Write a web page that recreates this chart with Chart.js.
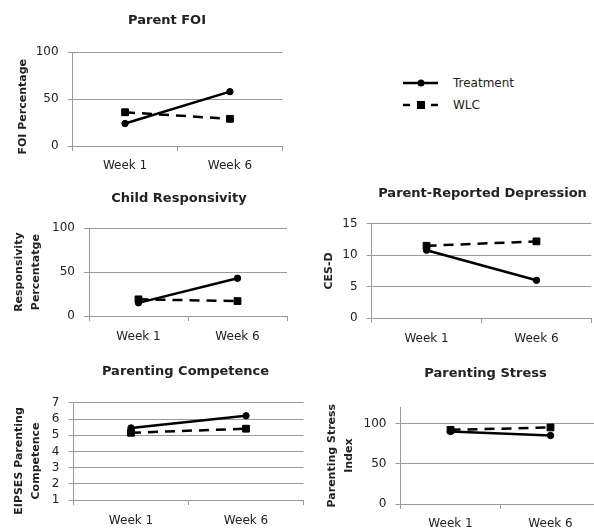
<!DOCTYPE html>
<html>
<head>
<meta charset="utf-8">
<script src="https://cdn.jsdelivr.net/npm/chart.js@4.4.1/dist/chart.umd.min.js"></script>
<style>
  html, body { margin: 0; padding: 0; background: #fff; }
  body { width: 594px; height: 529px; overflow: hidden; position: relative; font-family: "DejaVu Sans", sans-serif; }
  canvas { position: absolute; }
  .legend-row { position: absolute; left: 400px; height: 16px; display: flex; align-items: center; font-size: 12px; color: #222; }
  .legend-row svg { width: 44px; height: 16px; margin-right: 9px; }
</style>
</head>
<body>
<div class="legend-row" style="top:75px">
  <svg viewBox="0 0 44 16"><line x1="3" y1="8" x2="38" y2="8" stroke="#000" stroke-width="2.5"/><circle cx="21" cy="8" r="3.5" fill="#000"/></svg>
  <span id="lg0"></span>
</div>
<div class="legend-row" style="top:97px">
  <svg viewBox="0 0 44 16"><line x1="3" y1="8" x2="38" y2="8" stroke="#000" stroke-width="2.5" stroke-dasharray="7 7"/><rect x="17" y="4" width="8" height="8" fill="#000"/></svg>
  <span id="lg1"></span>
</div>
<script>
// Time points and series
const weeks = ['Week 1', 'Week 6'];
const seriesNames = ['Treatment', 'WLC'];

// Parent FOI (%)
const foiTreatment = [24, 58];
const foiWLC = [36, 29];

// Child responsivity (%)
const respTreatment = [15, 43];
const respWLC = [19, 17];

// Parent-reported depression (CES-D)
const cesdTreatment = [10.8, 6.0];
const cesdWLC = [11.5, 12.2];

// Parenting competence (EIPSES)
const competenceTreatment = [5.45, 6.2];
const competenceWLC = [5.15, 5.4];

// Parenting stress index
const stressTreatment = [90, 85];
const stressWLC = [92, 95];

document.getElementById('lg0').textContent = seriesNames[0];
document.getElementById('lg1').textContent = seriesNames[1];

const GRID = '#9a9a9a';
const INK = '#222';
const FONT = '"DejaVu Sans", sans-serif';
const NB = '\u00a0';

// Panel layout: plot box (L,R,T,B), title centre, y-title first-line centre
const panels = [
  { title: 'Parent FOI', yTitle: 'FOI Percentage' + NB.repeat(4), t: foiTreatment, w: foiWLC,
    min: 0, max: 100, step: 50, L: 73, R: 283, T: 52, B: 146,
    titleX: 167.5, titleY: 20.5, yTitleX: 24, labelPad: 8 },
  { title: 'Child Responsivity', yTitle: ['Responsivity', 'Percentatge'], t: respTreatment, w: respWLC,
    min: 0, max: 100, step: 50, L: 89, R: 287, T: 228, B: 316,
    titleX: 179, titleY: 198.5, yTitleX: 19.5, labelPad: 9 },
  { title: 'Parent-Reported Depression', yTitle: 'CES-D', t: cesdTreatment, w: cesdWLC,
    min: 0, max: 15, step: 5, L: 372, R: 592, T: 224, B: 318,
    titleX: 483, titleY: 194, yTitleX: 330, labelPad: 9 },
  { title: 'Parenting Competence', yTitle: ['EIPSES Parenting' + NB.repeat(5), 'Competence' + NB.repeat(5)], t: competenceTreatment, w: competenceWLC,
    min: 1, max: 7, step: 1, L: 73, R: 303, T: 403, B: 500,
    titleX: 185, titleY: 372, yTitleX: 19, labelPad: 9 },
  { title: 'Parenting Stress', yTitle: ['Parenting Stress', 'Index'], t: stressTreatment, w: stressWLC,
    min: 0, max: 120, step: 50, L: 400, R: 600, T: 407, B: 503.5,
    titleX: 485, titleY: 373.5, yTitleX: 332, labelPad: 8, keep: [0, 50, 100] }
];

function makePanel(p) {
  const multi = Array.isArray(p.yTitle);
  const yTitleSize = 11;
  const yTitleLH = multi ? 17 : 13.2;
  const titleSize = 13;
  const titleLH = titleSize * 1.2;
  const left = p.yTitleX - yTitleLH / 2 - 3;
  const top = p.titleY - 2 - titleLH / 2;
  const right = 2 * p.titleX - left;
  const xh = 34;
  const cw = Math.round(right - left);
  const ch = Math.round(p.B + xh - top);
  const yw = p.L - left;
  const rw = right - p.R;
  const padBottom = p.T - top - 2 - titleLH;

  const cv = document.createElement('canvas');
  cv.width = cw; cv.height = ch;
  cv.style.left = left + 'px'; cv.style.top = top + 'px';
  cv.style.width = cw + 'px'; cv.style.height = ch + 'px';
  document.body.appendChild(cv);

  new Chart(cv, {
    type: 'line',
    data: {
      labels: weeks,
      datasets: [
        { label: seriesNames[0], data: p.t, borderColor: '#000', backgroundColor: '#000',
          borderWidth: 2.5, pointStyle: 'circle', pointRadius: 3.2, pointBorderWidth: 1,
          pointBackgroundColor: '#000', pointBorderColor: '#000', tension: 0 },
        { label: seriesNames[1], data: p.w, borderColor: '#000', backgroundColor: '#000',
          borderWidth: 2.5, borderDash: [10, 7], pointStyle: 'rect', pointRadius: 4.8, pointBorderWidth: 1,
          pointBackgroundColor: '#000', pointBorderColor: '#000', tension: 0 }
      ]
    },
    options: {
      responsive: false,
      animation: false,
      events: [],
      layout: { padding: 0 },
      plugins: {
        legend: { display: false },
        tooltip: { enabled: false },
        title: {
          display: true, text: p.title, color: INK,
          font: { family: FONT, size: titleSize, weight: 'bold', lineHeight: 1.2 },
          padding: { top: 2, bottom: padBottom }
        }
      },
      scales: {
        x: {
          type: 'category', offset: true,
          grid: { offset: true, drawOnChartArea: false, drawTicks: true, tickLength: 5, color: GRID, lineWidth: 1 },
          border: { display: true, color: GRID, width: 1 },
          ticks: { color: INK, padding: p.labelPad, maxRotation: 0, font: { family: FONT, size: 12 } },
          afterFit: s => { s.height = xh; }
        },
        y: {
          type: 'linear', position: 'left', min: p.min, max: p.max,
          grid: { color: GRID, lineWidth: 1, drawTicks: true, tickLength: 5 },
          border: { display: true, color: GRID, width: 1 },
          ticks: { stepSize: p.step, autoSkip: false, color: INK, padding: 9, font: { family: FONT, size: 12 } },
          afterBuildTicks: s => { if (p.keep) s.ticks = s.ticks.filter(t => p.keep.includes(t.value)); },
          title: {
            display: true, text: p.yTitle, color: INK,
            font: { family: FONT, size: yTitleSize, weight: 'bold', lineHeight: yTitleLH / yTitleSize },
            padding: { top: 3, bottom: 0 }
          },
          afterFit: s => { s.width = yw; }
        },
        yr: {
          type: 'linear', position: 'right', display: true,
          grid: { display: false }, border: { display: false }, ticks: { display: false },
          afterFit: s => { s.width = rw; }
        }
      }
    }
  });
}

panels.forEach(makePanel);
</script>
</body>
</html>
